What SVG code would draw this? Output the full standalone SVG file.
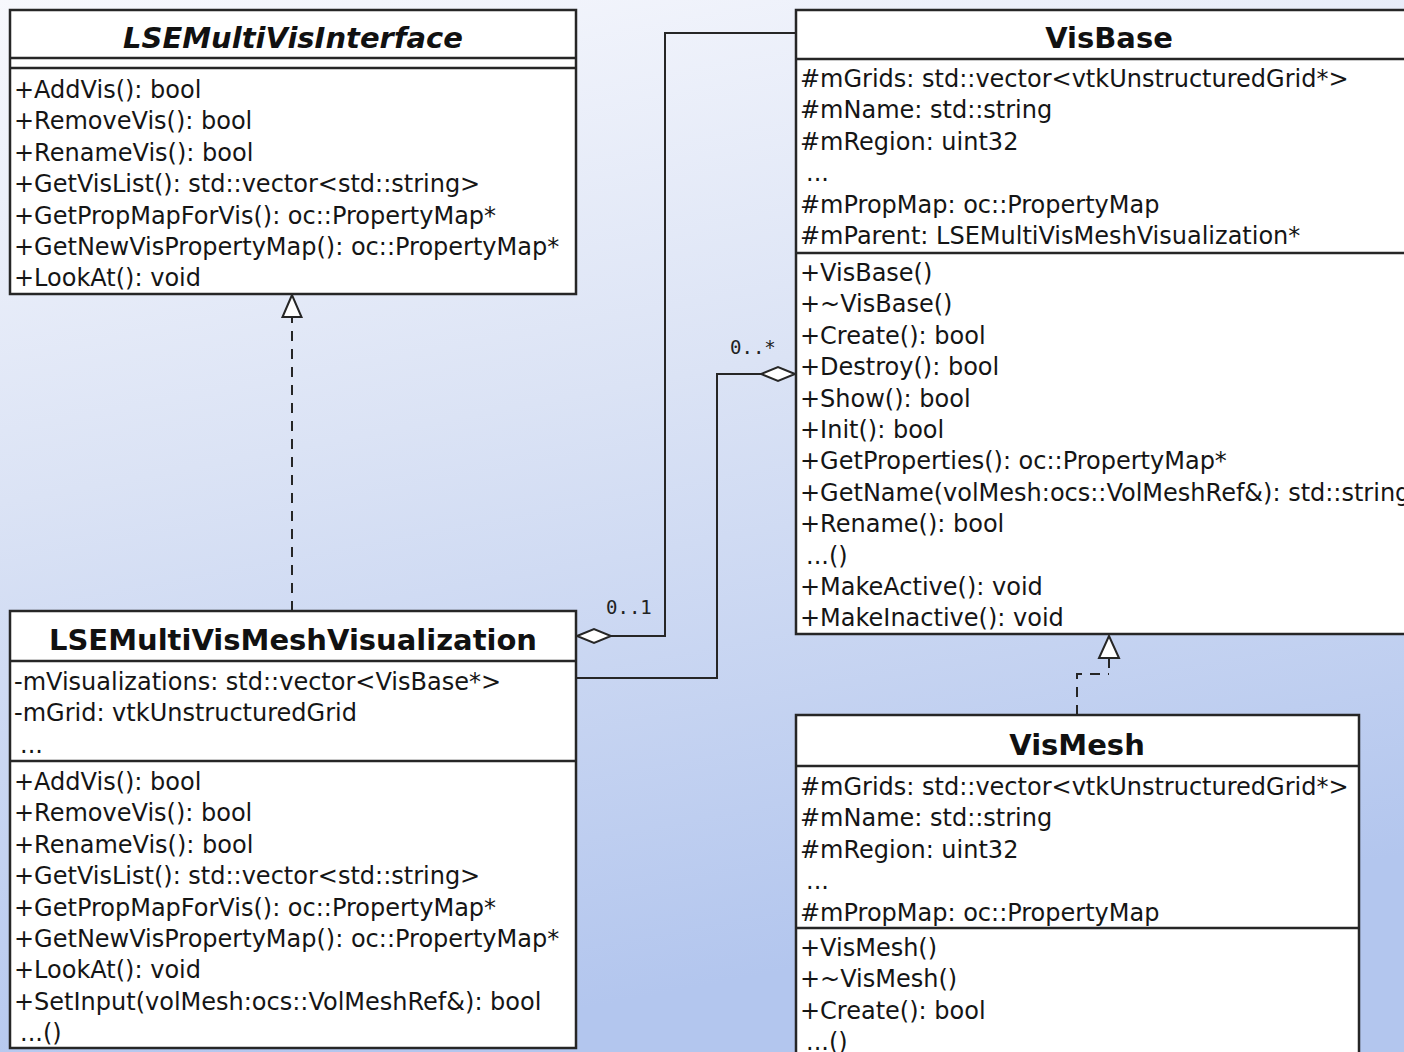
<svg xmlns="http://www.w3.org/2000/svg" width="1404" height="1052" viewBox="0 0 1404 1052">
  <defs>
    <linearGradient id="bg" x1="0" y1="0" x2="0.25" y2="1">
      <stop offset="0" stop-color="#f7f8fd"/>
      <stop offset="0.45" stop-color="#dbe3f5"/>
      <stop offset="1" stop-color="#b3c6ee"/>
    </linearGradient>
    <style>
      .box { fill: #ffffff; stroke: #262626; stroke-width: 2.5; }
      .sep { stroke: #262626; stroke-width: 2.5; fill: none; }
      .title { font-family: "DejaVu Sans", sans-serif; font-weight: bold; font-size: 29px; fill: #111; text-anchor: middle; }
      .ital { font-style: italic; }
      .m { font-family: "DejaVu Sans", sans-serif; font-size: 24px; fill: #151515; }
      .conn { stroke: #262626; stroke-width: 2; fill: none; }
      .dash { stroke-dasharray: 10 8; }
      .mult { font-family: "DejaVu Sans Mono", monospace; font-size: 19px; fill: #222; }
      .diamond { fill: #ffffff; stroke: #262626; stroke-width: 2; }
      .tri { fill: #ffffff; stroke: #262626; stroke-width: 2; }
    </style>
  </defs>

  <rect x="0" y="0" width="1404" height="1052" fill="url(#bg)"/>

  <!-- connectors -->
  <g id="connectors">
    <!-- LSEMultiVisMeshVisualization realizes LSEMultiVisInterface -->
    <path class="conn dash" d="M292 611 V322"/>
    <path class="conn" d="M292 322 V317"/>
    <polygon class="tri" points="292,295 282.5,317 301.5,317"/>

    <!-- VisMesh realizes VisBase -->
    <path class="conn dash" d="M1077 715 V674 H1109" stroke-dasharray="8 7"/>
    <path class="conn" d="M1109 668 V658"/>
    <polygon class="tri" points="1109,636 1099,658 1119,658"/>

    <!-- parent aggregation (0..1) -->
    <path class="conn" d="M611 636 H665 V33 H796"/>
    <polygon class="diamond" points="577,636 594,629 611,636 594,643"/>
    <text class="mult" x="606" y="614">0..1</text>

    <!-- visualizations aggregation (0..*) -->
    <path class="conn" d="M576 678 H717 V374 H761"/>
    <polygon class="diamond" points="795,374 778,367 761,374 778,381"/>
    <text class="mult" x="730" y="354">0..*</text>
  </g>

  <!-- LSEMultiVisInterface -->
  <g id="LSEMultiVisInterface">
    <rect class="box" x="10" y="10" width="566" height="284"/>
    <line class="sep" x1="10" y1="58" x2="576" y2="58"/>
    <line class="sep" x1="10" y1="68" x2="576" y2="68"/>
    <text class="title ital" x="293" y="48">LSEMultiVisInterface</text>
    <text class="m" x="14" y="98">+AddVis(): bool</text>
    <text class="m" x="14" y="129.4">+RemoveVis(): bool</text>
    <text class="m" x="14" y="160.8">+RenameVis(): bool</text>
    <text class="m" x="14" y="192.2">+GetVisList(): std::vector&lt;std::string&gt;</text>
    <text class="m" x="14" y="223.6">+GetPropMapForVis(): oc::PropertyMap*</text>
    <text class="m" x="14" y="255">+GetNewVisPropertyMap(): oc::PropertyMap*</text>
    <text class="m" x="14" y="286.4">+LookAt(): void</text>
  </g>

  <!-- VisBase -->
  <g id="VisBase">
    <rect class="box" x="796" y="10" width="640" height="624"/>
    <line class="sep" x1="796" y1="59" x2="1420" y2="59"/>
    <line class="sep" x1="796" y1="253" x2="1420" y2="253"/>
    <text class="title" x="1109" y="48">VisBase</text>
    <text class="m" x="800" y="87">#mGrids: std::vector&lt;vtkUnstructuredGrid*&gt;</text>
    <text class="m" x="800" y="118.4">#mName: std::string</text>
    <text class="m" x="800" y="149.8">#mRegion: uint32</text>
    <text class="m" x="806" y="181.2">...</text>
    <text class="m" x="800" y="212.6">#mPropMap: oc::PropertyMap</text>
    <text class="m" x="800" y="244">#mParent: LSEMultiVisMeshVisualization*</text>
    <text class="m" x="800" y="281">+VisBase()</text>
    <text class="m" x="800" y="312.4">+~VisBase()</text>
    <text class="m" x="800" y="343.8">+Create(): bool</text>
    <text class="m" x="800" y="375.2">+Destroy(): bool</text>
    <text class="m" x="800" y="406.6">+Show(): bool</text>
    <text class="m" x="800" y="438">+Init(): bool</text>
    <text class="m" x="800" y="469.4">+GetProperties(): oc::PropertyMap*</text>
    <text class="m" x="800" y="500.8">+GetName(volMesh:ocs::VolMeshRef&amp;): std::string</text>
    <text class="m" x="800" y="532.2">+Rename(): bool</text>
    <text class="m" x="806" y="563.6">...()</text>
    <text class="m" x="800" y="595">+MakeActive(): void</text>
    <text class="m" x="800" y="626.4">+MakeInactive(): void</text>
  </g>

  <!-- LSEMultiVisMeshVisualization -->
  <g id="LSEMultiVisMeshVisualization">
    <rect class="box" x="10" y="611" width="566" height="437"/>
    <line class="sep" x1="10" y1="661" x2="576" y2="661"/>
    <line class="sep" x1="10" y1="761" x2="576" y2="761"/>
    <text class="title" x="293" y="650">LSEMultiVisMeshVisualization</text>
    <text class="m" x="14" y="690">-mVisualizations: std::vector&lt;VisBase*&gt;</text>
    <text class="m" x="14" y="721.4">-mGrid: vtkUnstructuredGrid</text>
    <text class="m" x="20" y="752.8">...</text>
    <text class="m" x="14" y="790">+AddVis(): bool</text>
    <text class="m" x="14" y="821.4">+RemoveVis(): bool</text>
    <text class="m" x="14" y="852.8">+RenameVis(): bool</text>
    <text class="m" x="14" y="884.2">+GetVisList(): std::vector&lt;std::string&gt;</text>
    <text class="m" x="14" y="915.6">+GetPropMapForVis(): oc::PropertyMap*</text>
    <text class="m" x="14" y="947">+GetNewVisPropertyMap(): oc::PropertyMap*</text>
    <text class="m" x="14" y="978.4">+LookAt(): void</text>
    <text class="m" x="14" y="1009.8">+SetInput(volMesh:ocs::VolMeshRef&amp;): bool</text>
    <text class="m" x="20" y="1041.2">...()</text>
  </g>

  <!-- VisMesh -->
  <g id="VisMesh">
    <rect class="box" x="796" y="715" width="563" height="360"/>
    <line class="sep" x1="796" y1="766" x2="1359" y2="766"/>
    <line class="sep" x1="796" y1="928" x2="1359" y2="928"/>
    <text class="title" x="1077" y="755">VisMesh</text>
    <text class="m" x="800" y="795">#mGrids: std::vector&lt;vtkUnstructuredGrid*&gt;</text>
    <text class="m" x="800" y="826.4">#mName: std::string</text>
    <text class="m" x="800" y="857.8">#mRegion: uint32</text>
    <text class="m" x="806" y="889.2">...</text>
    <text class="m" x="800" y="920.6">#mPropMap: oc::PropertyMap</text>
    <text class="m" x="800" y="956">+VisMesh()</text>
    <text class="m" x="800" y="987.4">+~VisMesh()</text>
    <text class="m" x="800" y="1018.8">+Create(): bool</text>
    <text class="m" x="806" y="1050.2">...()</text>
  </g>
</svg>
